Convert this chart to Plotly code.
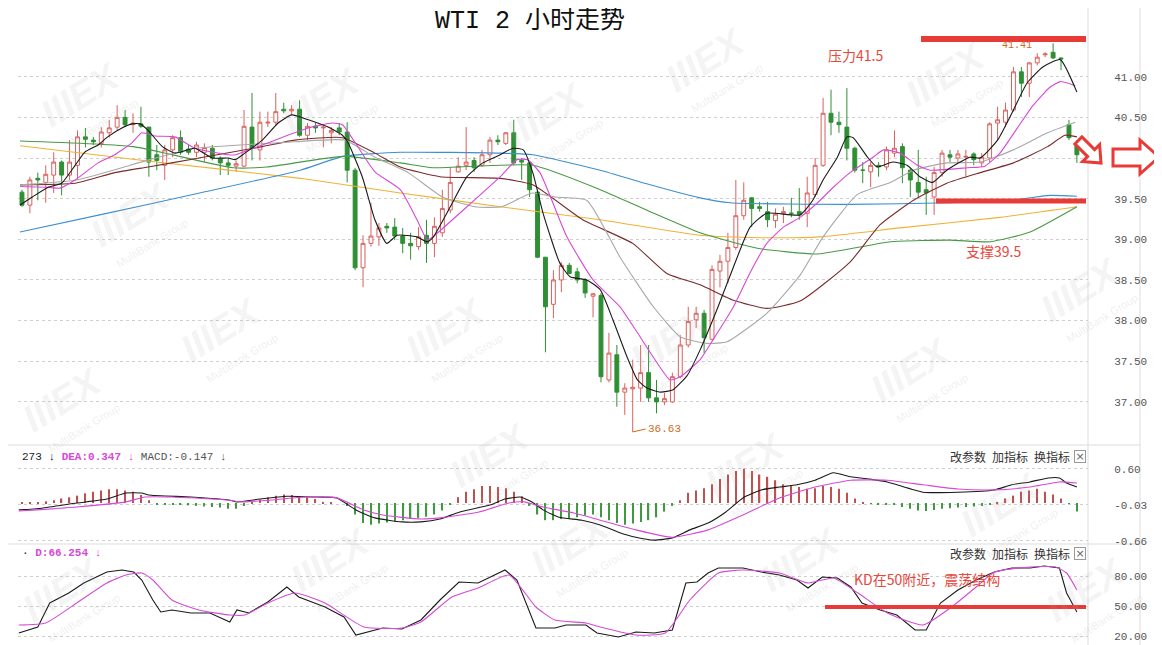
import plotly.graph_objects as go

# page draws the figure 8px in from the top-left corner of the window
OFF = 8
W, H = 1162 - OFF, 645 - OFF


def px(x):
    return (x - OFF) / W


def py(y):
    return 1 - (y - OFF) / H


# ---------------- price candles (2h bars) ----------------
opens = [39.58, 39.42, 39.75, 39.70, 39.79, 39.95, 39.79, 39.91, 40.26, 40.22,
         40.18, 40.31, 40.38, 40.50, 40.41, 40.42, 40.38, 40.04, 39.91, 40.10,
         40.25, 40.11, 40.07, 40.07, 40.12, 39.99, 39.94, 39.90, 39.90, 40.38,
         40.10, 40.43, 40.44, 40.60, 40.58, 40.60, 40.28, 40.39, 40.37, 40.31,
         40.37, 40.32, 39.85, 38.65, 38.95, 39.03, 39.16, 39.15, 39.04, 38.95,
         38.91, 39.05, 38.95, 39.08, 39.36, 39.83, 39.91, 39.97, 39.91, 40.04,
         40.22, 40.18, 40.31, 39.97, 39.94, 39.58, 38.78, 38.20, 38.50, 38.68,
         38.60, 38.50, 38.30, 38.31, 37.27, 37.58, 37.12, 37.16, 37.17, 37.36,
         37.05, 37.00, 37.00, 37.31, 37.70, 38.01, 38.09, 37.77, 38.61, 38.73,
         38.90, 39.29, 39.51, 39.40, 39.34, 39.23, 39.32, 39.32, 39.34, 39.32,
         39.55, 39.91, 40.55, 40.44, 40.38, 40.12, 39.85, 39.83, 39.91, 39.89,
         40.06, 40.14, 39.85, 39.70, 39.61, 39.52, 39.82, 40.04, 40.00, 40.01,
         40.05, 39.94, 40.00, 40.43, 40.44, 40.59, 41.06, 40.92, 41.17, 41.27,
         41.30, 41.23, 40.41, 40.16]
highs = [39.61, 39.77, 39.82, 39.91, 40.07, 39.97, 40.22, 40.34, 40.37, 40.26,
         40.38, 40.47, 40.65, 40.59, 40.55, 40.63, 40.38, 40.16, 40.16, 40.28,
         40.34, 40.16, 40.20, 40.18, 40.16, 40.02, 40.00, 39.97, 40.59, 40.80,
         40.57, 40.57, 40.80, 40.68, 40.65, 40.71, 40.43, 40.43, 40.41, 40.38,
         40.43, 40.44, 39.88, 39.05, 39.45, 39.20, 39.20, 39.26, 39.14, 39.08,
         39.15, 39.24, 39.27, 39.61, 39.89, 40.01, 40.38, 40.01, 40.10, 40.26,
         40.28, 40.32, 40.47, 40.00, 39.95, 39.61, 38.78, 38.62, 38.72, 38.71,
         38.65, 38.52, 38.34, 38.34, 37.85, 37.70, 37.23, 37.52, 37.70, 37.70,
         37.27, 37.11, 37.36, 37.82, 38.17, 38.17, 38.13, 38.68, 38.81, 39.08,
         39.73, 39.70, 39.52, 39.46, 39.46, 39.38, 39.40, 39.51, 39.63, 39.77,
         40.00, 40.74, 40.84, 40.57, 40.86, 40.14, 39.95, 39.95, 39.95, 40.14,
         40.34, 40.18, 39.88, 40.10, 39.77, 39.89, 40.10, 40.10, 40.10, 40.10,
         40.07, 40.06, 40.44, 40.63, 40.68, 41.12, 41.12, 41.18, 41.29, 41.30,
         41.41, 41.24, 40.47, 40.22]
lows = [39.40, 39.32, 39.48, 39.45, 39.57, 39.54, 39.73, 39.73, 40.13, 40.16,
        40.13, 40.25, 40.34, 40.38, 40.31, 40.37, 39.77, 39.85, 39.73, 40.01,
        40.04, 40.04, 40.01, 39.95, 39.97, 39.79, 39.79, 39.83, 39.89, 39.97,
        39.97, 40.38, 40.40, 40.55, 40.53, 40.26, 40.22, 40.31, 40.13, 40.18,
        40.28, 39.70, 38.62, 38.41, 38.91, 38.92, 39.08, 38.99, 38.83, 38.75,
        38.87, 38.71, 38.78, 39.03, 39.32, 39.82, 39.85, 39.83, 39.89, 39.94,
        40.16, 40.16, 39.91, 39.73, 39.52, 38.77, 37.61, 38.03, 38.35, 38.57,
        38.46, 38.28, 38.04, 37.24, 37.24, 36.94, 36.84, 36.63, 37.00, 37.00,
        36.86, 36.96, 36.99, 37.29, 37.67, 37.91, 37.60, 37.76, 38.41, 38.46,
        38.87, 39.24, 39.15, 39.34, 39.15, 39.14, 39.20, 39.27, 39.24, 39.15,
        39.52, 39.89, 40.28, 40.31, 39.97, 39.82, 39.69, 39.64, 39.77, 39.85,
        40.01, 39.69, 39.52, 39.51, 39.30, 39.30, 39.77, 39.95, 39.95, 39.77,
        39.91, 39.89, 39.95, 40.22, 40.38, 40.57, 40.75, 40.75, 41.14, 41.24,
        41.22, 41.08, 40.22, 39.94]
closes = [39.42, 39.73, 39.73, 39.80, 39.95, 39.79, 39.95, 40.26, 40.23, 40.20,
          40.32, 40.37, 40.50, 40.41, 40.43, 40.39, 39.95, 39.97, 40.10, 40.25,
          40.07, 40.07, 40.16, 40.13, 40.00, 39.94, 39.91, 39.93, 40.39, 40.12,
          40.44, 40.44, 40.57, 40.58, 40.60, 40.28, 40.39, 40.37, 40.38, 40.34,
          40.32, 39.85, 38.65, 38.95, 39.04, 39.14, 39.14, 39.04, 38.95, 38.92,
          39.03, 38.95, 39.16, 39.38, 39.70, 39.90, 39.95, 39.88, 40.04, 40.22,
          40.20, 40.31, 39.94, 39.95, 39.61, 38.78, 38.17, 38.50, 38.68, 38.58,
          38.50, 38.34, 38.33, 37.31, 37.60, 37.12, 37.17, 37.18, 37.36, 37.05,
          37.00, 37.04, 37.31, 37.70, 37.99, 38.09, 37.79, 38.63, 38.73, 38.90,
          39.29, 39.48, 39.38, 39.38, 39.24, 39.31, 39.34, 39.32, 39.30, 39.57,
          39.91, 40.55, 40.44, 40.41, 40.12, 39.85, 39.85, 39.91, 39.89, 40.10,
          40.12, 39.88, 39.73, 39.58, 39.57, 39.82, 40.06, 40.01, 40.05, 40.02,
          39.98, 40.01, 40.42, 40.47, 40.59, 41.06, 40.92, 41.17, 41.24, 41.28,
          41.23, 41.22, 40.25, 40.04]
bar_index = list(range(len(opens)))

# ---------------- moving averages ----------------
ma5_x = [-0.25, 1.3, 3.3, 5.0, 6.7, 7.9, 9.6, 10.8, 12.6, 13.9, 14.9, 15.9, 17.7, 19.3, 20.9,
         21.8, 24.0, 26.0, 26.9, 28.1, 30.3, 32.3, 34.0, 36.1, 38.6, 40.4, 41.1, 42.9, 44.5,
         46.0, 47.3, 49.8, 51.1, 51.8, 54.0, 56.1, 58.1, 60.3, 61.9, 63.2, 64.4, 65.7, 67.8,
         69.1, 71.2, 72.9, 74.5, 76.3, 77.6, 78.8, 80.5, 82.1, 83.9, 85.5, 87.6, 89.7, 91.8,
         93.9, 98.1, 99.7, 101.0, 102.8, 104.0, 104.8, 106.6, 107.8, 109.8, 111.6, 113.2,
         114.8, 116.6, 119.5, 120.8, 123.0, 125.0, 126.7, 128.7, 130.9, 133.0]
ma5_v = [39.42, 39.52, 39.64, 39.69, 39.91, 40.07, 40.16, 40.26, 40.37, 40.42, 40.42, 40.34,
         40.14, 40.06, 40.10, 40.12, 40.00, 40.00, 39.98, 40.06, 40.22, 40.43, 40.53, 40.47,
         40.38, 40.28, 40.19, 39.77, 39.24, 38.95, 39.05, 39.03, 38.97, 39.02, 39.40, 39.77,
         39.94, 40.04, 40.12, 40.10, 39.82, 39.32, 38.71, 38.54, 38.50, 38.38, 38.01, 37.55,
         37.27, 37.17, 37.12, 37.15, 37.33, 37.64, 38.13, 38.66, 39.15, 39.32, 39.30, 39.48,
         39.73, 40.01, 40.26, 40.25, 40.01, 39.89, 39.95, 39.91, 39.77, 39.70, 39.85, 40.01,
         40.00, 40.22, 40.59, 40.92, 41.12, 41.21, 40.81]
ma10_x = [-0.25, 3.3, 4.8, 6.7, 9.6, 11.7, 13.9, 15.1, 16.8, 19.3, 21.8, 26.0, 26.9, 30.3,
          33.5, 36.1, 39.1, 40.4, 42.0, 44.5, 47.7, 49.8, 51.1, 51.8, 56.1, 60.3, 62.4, 63.7,
          65.3, 68.7, 72.0, 75.4, 77.6, 79.6, 81.7, 83.0, 85.5, 87.1, 89.7, 91.8, 93.9, 96.0,
          98.1, 100.3, 102.3, 104.4, 107.3, 108.6, 110.7, 112.9, 114.5, 119.2, 121.4, 123.3,
          125.5, 127.5, 129.6, 130.9, 132.8]
ma10_v = [39.65, 39.64, 39.63, 39.73, 39.94, 40.04, 40.19, 40.31, 40.27, 40.26, 40.12, 40.04,
          40.04, 40.16, 40.28, 40.37, 40.43, 40.41, 40.19, 39.83, 39.61, 39.24, 38.99, 39.03,
          39.40, 39.77, 39.98, 39.98, 39.82, 39.03, 38.50, 38.17, 37.85, 37.55, 37.27, 37.31,
          37.52, 37.76, 38.17, 38.59, 38.95, 39.15, 39.27, 39.45, 39.64, 39.82, 40.01, 40.10,
          40.06, 39.91, 39.85, 39.88, 39.90, 40.06, 40.37, 40.65, 40.87, 40.94, 40.89]
ma20_x = [-0.25, 6.9, 16.1, 21.8, 26.0, 34.4, 40.7, 44.5, 48.7, 53.0, 57.1, 60.5, 64.3, 67.2,
          71.2, 75.4, 79.6, 83.0, 86.4, 88.9, 93.9, 98.1, 101.0, 105.3, 109.5, 112.4, 116.6,
          120.8, 125.0, 129.3, 132.8]
ma20_v = [39.67, 39.73, 39.98, 40.12, 40.15, 40.20, 40.22, 40.01, 39.82, 39.52, 39.40, 39.40,
          39.57, 39.52, 39.48, 38.78, 38.17, 37.80, 37.72, 37.74, 38.09, 38.56, 39.03, 39.55,
          39.70, 39.85, 39.94, 39.95, 40.10, 40.31, 40.44]
ma30_x = [-0.25, 6.7, 11.7, 15.9, 21.8, 30.3, 34.4, 40.4, 44.5, 47.7, 52.7, 60.3, 64.4, 70.7,
          77.0, 81.3, 85.5, 89.7, 93.9, 98.1, 104.4, 108.2, 112.4, 116.6, 120.8, 125.0, 129.3,
          131.5, 133.0]
ma30_v = [39.67, 39.69, 39.82, 39.89, 39.99, 40.14, 40.22, 40.25, 40.06, 39.89, 39.77, 39.75,
          39.67, 39.24, 38.95, 38.58, 38.44, 38.25, 38.15, 38.24, 38.72, 39.18, 39.48, 39.69,
          39.82, 39.94, 40.14, 40.28, 40.26]
ma60_x = [-0.25, 14.0, 26.6, 30.9, 40.5, 47.7, 51.8, 64.4, 72.9, 79.2, 85.5, 92.7, 100.3,
          109.5, 117.0, 122.1, 127.1, 133.0]
ma60_v = [40.21, 40.14, 39.88, 39.89, 40.02, 39.94, 39.88, 39.91, 39.61, 39.34, 39.08, 38.89,
          38.82, 38.97, 38.99, 38.97, 39.09, 39.40]
ma120_x = [-0.25, 9.8, 22.4, 35.1, 40.5, 47.7, 60.3, 64.4, 72.9, 79.2, 85.5, 89.3, 104.4,
           117.0, 125.5, 129.6, 133.0]
ma120_v = [39.09, 39.30, 39.57, 39.85, 40.02, 40.07, 40.06, 40.04, 39.85, 39.67, 39.51, 39.45,
           39.43, 39.45, 39.49, 39.54, 39.53]
ma250_x = [-0.25, 16.1, 35.1, 47.7, 60.3, 72.9, 85.5, 93.1, 100.6, 110.7, 123.3, 133.0]
ma250_v = [40.15, 39.96, 39.75, 39.57, 39.40, 39.24, 39.05, 39.02, 39.03, 39.14, 39.27, 39.40]

# ---------------- MACD ----------------
dif_x = [-0.4, 2.5, 6.9, 10.7, 13.1, 15.1, 16.0, 21.3, 26.2, 27.1, 30.0, 33.4, 37.3, 39.7,
         42.1, 44.5, 47.9, 50.3, 52.7, 55.1, 59.0, 60.9, 62.8, 64.3, 65.7, 67.7, 70.6, 72.9,
         75.2, 77.4, 79.7, 82.0, 84.2, 86.5, 88.7, 90.9, 93.2, 95.5, 97.7, 100.0, 102.3, 104.5,
         106.8, 109.1, 113.6, 118.0, 122.6, 124.8, 127.1, 129.4, 130.8, 131.7, 133.0]
dif_v = [-0.12, -0.09, 0.0, 0.07, 0.175, 0.175, 0.14, 0.105, 0.05, 0.02, 0.07, 0.12, 0.105,
         0.09, -0.12, -0.26, -0.33, -0.33, -0.28, -0.16, -0.035, 0.07, 0.105, 0.02, -0.12,
         -0.25, -0.30, -0.385, -0.51, -0.60, -0.65, -0.61, -0.47, -0.35, -0.16, 0.09, 0.23,
         0.28, 0.32, 0.40, 0.53, 0.46, 0.42, 0.37, 0.19, 0.19, 0.23, 0.32, 0.37, 0.44, 0.44,
         0.35, 0.28]
dea_x = [-0.4, 6.9, 13.1, 15.5, 18.9, 26.2, 27.6, 31.0, 35.8, 39.7, 43.1, 45.5, 50.3, 52.7,
         57.5, 61.4, 63.3, 65.7, 69.6, 72.9, 77.4, 82.0, 86.5, 90.9, 95.5, 100.0, 104.5, 109.1,
         113.6, 118.0, 122.6, 127.1, 130.8, 133.0]
dea_v = [-0.14, -0.07, 0.02, 0.105, 0.105, 0.05, 0.02, 0.05, 0.105, 0.09, -0.12, -0.21, -0.28,
         -0.26, -0.16, 0.0, 0.02, -0.07, -0.175, -0.30, -0.47, -0.60, -0.47, -0.21, 0.09, 0.28,
         0.40, 0.40, 0.32, 0.245, 0.23, 0.28, 0.37, 0.35]
macd_hist = [0.01, 0.01, 0.01, 0.03, 0.05, 0.08, 0.10, 0.13, 0.17, 0.20,
             0.22, 0.24, 0.24, 0.22, 0.20, 0.14, 0.05, -0.02, -0.03, -0.02,
             -0.03, -0.04, -0.05, -0.06, -0.07, -0.08, -0.10, -0.10, -0.05, 0.02,
             0.06, 0.10, 0.13, 0.15, 0.14, 0.12, 0.10, 0.07, 0.02, 0.01,
             0.00, -0.05, -0.20, -0.35, -0.38, -0.36, -0.34, -0.32, -0.30, -0.28,
             -0.26, -0.24, -0.20, -0.13, -0.03, 0.10, 0.20, 0.24, 0.30, 0.30,
             0.28, 0.26, 0.20, 0.12, -0.05, -0.20, -0.30, -0.30, -0.28, -0.27,
             -0.25, -0.22, -0.20, -0.25, -0.30, -0.35, -0.38, -0.36, -0.33, -0.30,
             -0.25, -0.15, -0.05, 0.05, 0.18, 0.22, 0.26, 0.33, 0.42, 0.50,
             0.56, 0.60, 0.56, 0.50, 0.46, 0.40, 0.33, 0.30, 0.28, 0.25,
             0.26, 0.30, 0.28, 0.25, 0.18, 0.08, 0.02, -0.01, -0.02, -0.02,
             -0.03, -0.07, -0.10, -0.13, -0.14, -0.12, -0.10, -0.09, -0.08, -0.07,
             -0.06, -0.05, -0.03, 0.02, 0.08, 0.13, 0.20, 0.22, 0.25, 0.20,
             0.15, 0.08, -0.01, -0.15]

# ---------------- KD ----------------
k_x = [-0.4, 2.0, 3.5, 5.9, 7.8, 10.7, 12.6, 14.1, 15.1, 16.5, 17.5, 18.9, 21.3, 23.7, 26.2,
       27.1, 28.6, 31.0, 33.4, 34.9, 38.2, 40.6, 42.1, 45.5, 47.9, 50.3, 52.7, 55.1, 57.5,
       60.9, 62.4, 64.8, 67.2, 68.6, 71.1, 72.5, 75.2, 77.4, 79.7, 82.0, 83.7, 85.1, 86.5,
       87.8, 90.9, 93.2, 95.5, 97.7, 99.1, 100.9, 102.8, 104.5, 105.9, 108.2, 110.3, 112.6,
       114.0, 115.8, 118.0, 120.3, 122.6, 124.8, 127.1, 128.9, 130.8, 131.7, 133.0]
k_v = [23, 29, 53, 63, 73, 84, 86, 84, 76, 56, 44, 46, 43, 43, 34, 46, 43, 54, 69, 59, 49, 39,
       21, 28, 27, 36, 56, 74, 73, 86, 76, 28, 28, 31, 31, 23, 19, 24, 23, 26, 73, 74, 83, 88,
       88, 84, 81, 76, 68, 79, 78, 69, 53, 46, 41, 26, 26, 53, 66, 76, 84, 88, 88, 90, 88, 63,
       44]
d_x = [-0.4, 3.0, 6.9, 10.7, 13.1, 15.1, 16.5, 18.9, 22.3, 26.2, 28.1, 31.0, 34.4, 38.2, 43.1,
       47.9, 50.3, 54.2, 57.5, 61.4, 64.8, 67.2, 71.1, 72.9, 77.4, 81.1, 84.2, 87.8, 90.9,
       95.5, 99.1, 102.3, 105.4, 109.1, 113.6, 117.2, 120.3, 122.6, 127.1, 130.3, 131.7, 133.0]
d_v = [31, 33, 53, 73, 81, 83, 76, 56, 46, 41, 41, 53, 63, 53, 29, 28, 34, 59, 68, 81, 49, 36,
       33, 29, 21, 23, 56, 83, 86, 83, 73, 78, 63, 43, 31, 49, 69, 84, 89, 89, 83, 66]

# ---------------- axis ticks ----------------
price_ticks = [37.0, 37.5, 38.0, 38.5, 39.0, 39.5, 40.0, 40.5, 41.0]
price_labels = ["37.00", "37.50", "38.00", "38.50", "39.00", "39.50", "40.00", "40.50", "41.00"]
macd_ticks = [0.60, -0.03, -0.66]
macd_labels = ["0.60", "-0.03", "-0.66"]
kd_ticks = [80, 50, 20]
kd_labels = ["80.00", "50.00", "20.00"]

# ---------------- figure ----------------
RED_UP = "#d9615d"
GREEN_DN = "#2f8f34"
MAG = "#d64ad6"

fig = go.Figure()

fig.add_trace(go.Candlestick(
    x=bar_index, open=opens, high=highs, low=lows, close=closes,
    increasing=dict(line=dict(color=RED_UP, width=1), fillcolor="#ffffff"),
    decreasing=dict(line=dict(color=GREEN_DN, width=1), fillcolor=GREEN_DN),
    whiskerwidth=0, showlegend=False, hoverinfo="skip", xaxis="x", yaxis="y"))

ma_specs = [
    (ma250_x, ma250_v, "#f0b235"),
    (ma120_x, ma120_v, "#3d8fd0"),
    (ma60_x, ma60_v, "#479a45"),
    (ma30_x, ma30_v, "#7a2b2b"),
    (ma20_x, ma20_v, "#a8a8a8"),
    (ma10_x, ma10_v, MAG),
    (ma5_x, ma5_v, "#1a1a1a"),
]
for xs, vs, col in ma_specs:
    fig.add_trace(go.Scatter(x=xs, y=vs, mode="lines",
                             line=dict(color=col, width=1.1, shape="spline", smoothing=0.5),
                             showlegend=False, hoverinfo="skip", xaxis="x", yaxis="y"))

fig.add_trace(go.Bar(x=bar_index, y=macd_hist, width=0.16,
                     marker=dict(color=["#c0504d" if v >= 0 else "#3f9a3f" for v in macd_hist],
                                 line=dict(width=0)),
                     showlegend=False, hoverinfo="skip", xaxis="x", yaxis="y2"))
fig.add_trace(go.Scatter(x=dif_x, y=dif_v, mode="lines",
                         line=dict(color="#1a1a1a", width=1.1, shape="spline", smoothing=0.5),
                         showlegend=False, hoverinfo="skip", xaxis="x", yaxis="y2"))
fig.add_trace(go.Scatter(x=dea_x, y=dea_v, mode="lines",
                         line=dict(color=MAG, width=1.1, shape="spline", smoothing=0.5),
                         showlegend=False, hoverinfo="skip", xaxis="x", yaxis="y2"))

fig.add_trace(go.Scatter(x=k_x, y=k_v, mode="lines",
                         line=dict(color="#1a1a1a", width=1.1),
                         showlegend=False, hoverinfo="skip", xaxis="x", yaxis="y3"))
fig.add_trace(go.Scatter(x=d_x, y=d_v, mode="lines",
                         line=dict(color=MAG, width=1.1, shape="spline", smoothing=0.5),
                         showlegend=False, hoverinfo="skip", xaxis="x", yaxis="y3"))

axis_font = dict(family="Liberation Mono, DejaVu Sans Mono", size=11, color="#555555")
common_y = dict(side="right", anchor="x", showline=False, zeroline=False,
                gridcolor="#cfcfcf", griddash="dot", gridwidth=1,
                ticks="outside", ticklen=23, tickcolor="rgba(0,0,0,0)",
                tickfont=axis_font, fixedrange=True, automargin=False)

fig.update_layout(
    width=W, height=H,
    margin=dict(l=0, r=0, t=0, b=0, autoexpand=False),
    paper_bgcolor="white", plot_bgcolor="white",
    showlegend=False,
    xaxis=dict(domain=[px(18), px(1088)], range=[-0.5, 134.4], visible=False,
               rangeslider=dict(visible=False), fixedrange=True, automargin=False),
    yaxis=dict(domain=[py(443), py(15)], range=[36.4945, 41.759],
               tickvals=price_ticks, ticktext=price_labels, **common_y),
    yaxis2=dict(domain=[py(543), py(447)], range=[-0.70, 0.982],
                tickvals=macd_ticks, ticktext=macd_labels, **common_y),
    yaxis3=dict(domain=[py(642), py(545)], range=[14, 111],
                tickvals=kd_ticks, ticktext=kd_labels, **common_y),
)

shapes = []
# panel borders
for xx in (1088, 1140):
    shapes.append(dict(type="line", xref="paper", yref="paper", x0=px(xx), x1=px(xx),
                       y0=py(645), y1=py(8), line=dict(color="#dddddd", width=1), layer="below"))
for yy in (445, 544):
    shapes.append(dict(type="line", xref="paper", yref="paper", x0=px(8), x1=px(1140),
                       y0=py(yy), y1=py(yy), line=dict(color="#dddddd", width=1), layer="below"))
# red annotation lines
RED = "#e83a36"
shapes.append(dict(type="line", xref="paper", yref="paper", x0=px(921), x1=px(1086),
                   y0=py(39), y1=py(39), line=dict(color=RED, width=6)))
shapes.append(dict(type="line", xref="paper", yref="paper", x0=px(936), x1=px(1086),
                   y0=py(201), y1=py(201), line=dict(color=RED, width=5)))
shapes.append(dict(type="line", xref="paper", yref="paper", x0=px(825), x1=px(1086),
                   y0=py(607), y1=py(607), line=dict(color=RED, width=4)))


def path_from(points):
    return "M " + " L ".join(f"{px(a):.5f},{py(b):.5f}" for a, b in points) + " Z"


arrow_right = [(1113, 149), (1140, 149), (1140, 140), (1159, 157), (1140, 174), (1140, 166), (1113, 166)]
arrow_diag = [(1081.9, 136.9), (1094.6, 149.6), (1099.6, 144.6), (1101, 163),
              (1082.6, 161.6), (1087.6, 156.6), (1074.9, 143.9)]
for pts in (arrow_right, arrow_diag):
    shapes.append(dict(type="path", xref="paper", yref="paper", path=path_from(pts),
                       line=dict(color=RED, width=3), fillcolor="white"))
fig.update_layout(shapes=shapes)

ann = []


def label(x, y, text, font, xanchor="center", **kw):
    ann.append(dict(x=px(x), y=py(y), xref="paper", yref="paper", showarrow=False,
                    xanchor=xanchor, yanchor="middle", text=text, font=font, **kw))


# watermarks
wm_pos = [(80, 95), (320, 100), (545, 115), (705, 60), (945, 75), (130, 215), (220, 330),
          (445, 330), (670, 340), (910, 370), (1080, 290), (62, 400), (490, 455), (745, 465),
          (1000, 505), (330, 560), (570, 545), (800, 560), (1085, 590), (62, 590)]
for (wx, wy) in wm_pos:
    label(wx, wy, "<b><i>IIIEX</i></b>",
          dict(family="Liberation Sans", size=38, color="rgba(170,170,170,0.15)"), textangle=-32)
    label(wx + 22, wy + 28, "MultiBank Group",
          dict(family="Liberation Sans", size=11, color="rgba(170,170,170,0.2)"), textangle=-32)

CJK = "Noto Sans CJK SC"
label(530, 21, "WTI 2 小时走势",
      dict(family="Liberation Mono, " + CJK, size=25, color="#111111"))
TXT_RED = "#e8483c"
label(855, 55, "压力41.5", dict(family=CJK, size=14, color=TXT_RED))
label(993, 251, "支撑39.5", dict(family=CJK, size=14, color=TXT_RED))
label(927, 579, "KD在50附近，震荡结构", dict(family=CJK, size=14, color=TXT_RED))
label(1017, 46, "41.41", dict(family="Liberation Mono", size=10, color="#d2691e"))
ann.append(dict(x=77, y=36.63, xref="x", yref="y", showarrow=True, arrowhead=0,
                arrowwidth=1, arrowcolor="#d2691e", ax=13, ay=-3, xanchor="left",
                yanchor="middle",
                text="36.63", font=dict(family="Liberation Mono", size=11, color="#d2691e")))
# indicator headers
label(20, 457, ("<span style='color:#222'>273 ↓</span> "
                "<span style='color:#d64ad6'><b>DEA:0.347 ↓</b></span> "
                "<span style='color:#555'>MACD:-0.147 ↓</span>"),
      dict(family="Liberation Mono, " + CJK, size=11), xanchor="left")
label(20, 553, "<span style='color:#222'>·</span> <span style='color:#d64ad6'><b>D:66.254 ↓</b></span>",
      dict(family="Liberation Mono, " + CJK, size=11), xanchor="left")
for yy in (457, 553):
    for xx, t in ((948, "改参数"), (990, "加指标"), (1032, "换指标")):
        label(xx, yy, t, dict(family=CJK, size=12, color="#333333"), xanchor="left")
    label(1080, yy, "×", dict(family="DejaVu Sans", size=11, color="#666666"),
          width=10, height=11, bordercolor="#999999", borderwidth=1, borderpad=0, bgcolor="white")
fig.update_layout(annotations=ann)

fig.write_html("out.html")
